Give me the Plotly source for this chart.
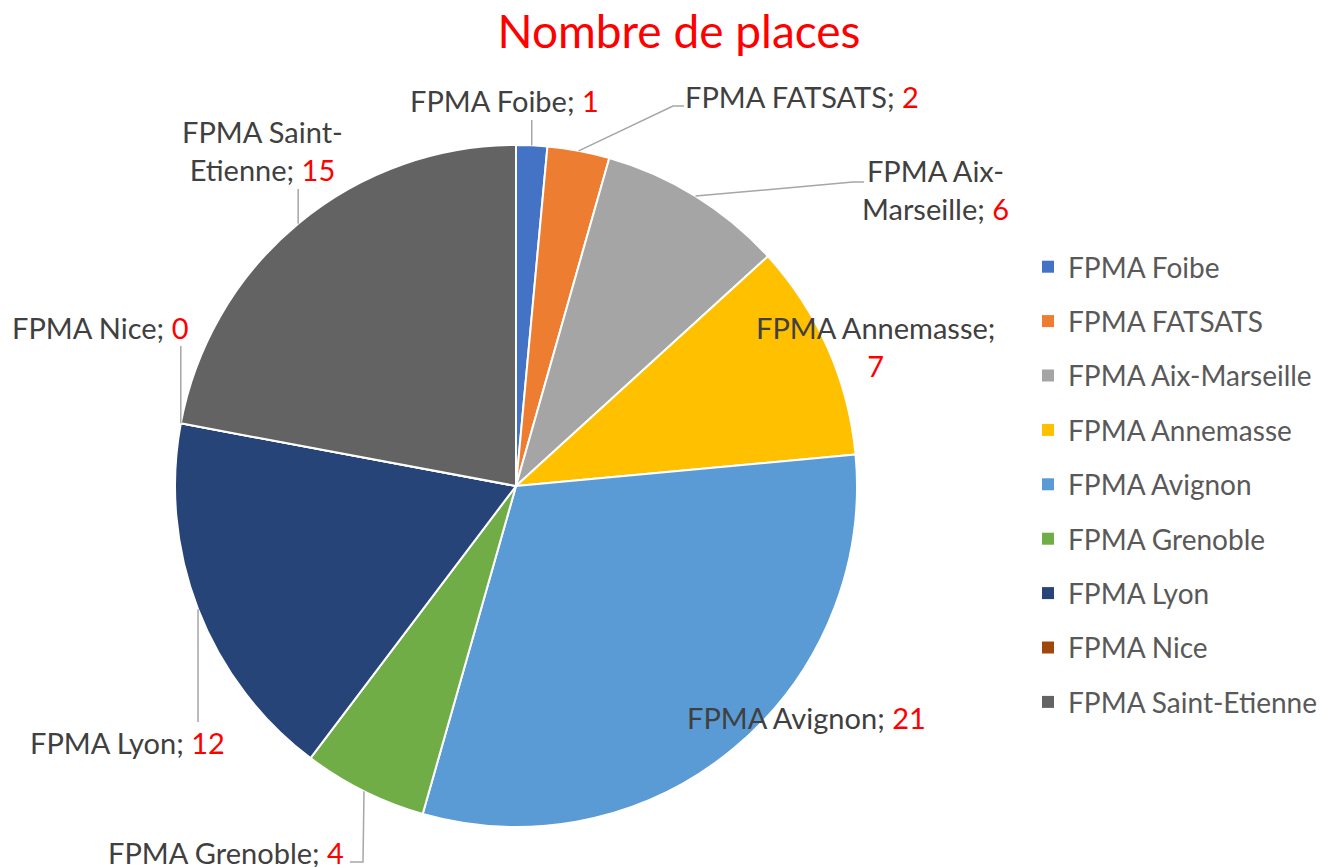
import math
import plotly.graph_objects as go

# ---------------- data ----------------
categories = ["FPMA Foibe", "FPMA FATSATS", "FPMA Aix-Marseille", "FPMA Annemasse",
              "FPMA Avignon", "FPMA Grenoble", "FPMA Lyon", "FPMA Nice", "FPMA Saint-Etienne"]
values = [1, 2, 6, 7, 21, 4, 12, 0, 15]
label_text = ["FPMA Foibe; ", "FPMA FATSATS; ", "FPMA Aix-<br>Marseille; ", "FPMA Annemasse;<br>",
              "FPMA Avignon; ", "FPMA Grenoble; ", "FPMA Lyon; ", "FPMA Nice; ", "FPMA Saint-<br>Etienne; "]
title_text = "Nombre de places"

# ---------------- style ----------------
colors = ["#4472C4", "#ED7D31", "#A5A5A5", "#FFC000", "#5B9BD5",
          "#70AD47", "#264478", "#9E480E", "#636363"]
W, H = 1327, 867
OFF = 8                              # page body margin
CX, CY, R = 516, 486, 341            # pie centre / radius in screen pixels
FONT = "Lato"
TXT = "#404040"

# label centre (screen pixels) and leader-line elbow points (screen pixels)
label_pos = [(504, 100), (802, 96), (935, 190), (875, 346), (806, 717),
             (226, 852), (127, 742), (100, 327), (262, 150)]
leader_pts = [[(None, 120)], [(673, 106), (684, 106)], [(853, 182), (864, 182)], None, None,
              [(363, 862), (350, 862)], [(None, 722)], [(None, 346)], [(None, 189)]]


def px(x):
    return (x - OFF) / W


def py(y):
    return 1 - (y - OFF) / H


fig = go.Figure()
fig.add_trace(go.Pie(
    labels=categories, values=values, sort=False, direction="clockwise", rotation=0,
    marker=dict(colors=colors, line=dict(color="white", width=2)),
    textinfo="none", hoverinfo="label+value", showlegend=False,
    domain=dict(x=[px(CX - R), px(CX + R)], y=[py(CY + R), py(CY - R)]),
))

# legend via dummy traces (one group each so spacing can be set)
for c, col in zip(categories, colors):
    fig.add_trace(go.Scatter(x=[None], y=[None], mode="markers", name=c, legendgroup=c,
                             marker=dict(symbol="square", size=12, color=col)))

total = sum(values)
cum = 0
annotations = []
shapes = []
for i, v in enumerate(values):
    mid = (cum + v / 2) / total * 2 * math.pi
    cum += v
    ex = CX + R * math.sin(mid)
    ey = CY - R * math.cos(mid)
    lx, ly = label_pos[i]
    annotations.append(dict(
        x=px(lx), y=py(ly), xref="paper", yref="paper", showarrow=False,
        text=f"{label_text[i]}<span style='color:#FF0000'>{v}</span>",
        font=dict(family=FONT, size=29, color=TXT), align="center",
        xanchor="center", yanchor="middle"))
    if leader_pts[i]:
        pts = [(ex, ey)]
        for (x, y) in leader_pts[i]:
            pts.append((ex if x is None else x, y))
        path = "M " + " L ".join(f"{px(x)},{py(y)}" for x, y in pts)
        shapes.append(dict(type="path", path=path, xref="paper", yref="paper",
                           line=dict(color="#A6A6A6", width=1.5)))

fig.update_layout(
    width=W, height=H, margin=dict(l=0, r=0, t=0, b=0),
    paper_bgcolor="white", plot_bgcolor="white",
    title=dict(text=title_text, x=px(679), y=py(32), xanchor="center", yanchor="middle",
               font=dict(family=FONT, size=46, color="#FF0000")),
    xaxis=dict(visible=False), yaxis=dict(visible=False),
    legend=dict(x=px(1028), y=py(242), xanchor="left", yanchor="top",
                font=dict(family=FONT, size=28, color="#595959"),
                tracegroupgap=15, bgcolor="rgba(0,0,0,0)"),
    annotations=annotations, shapes=shapes,
)

fig.write_html("out.html")
